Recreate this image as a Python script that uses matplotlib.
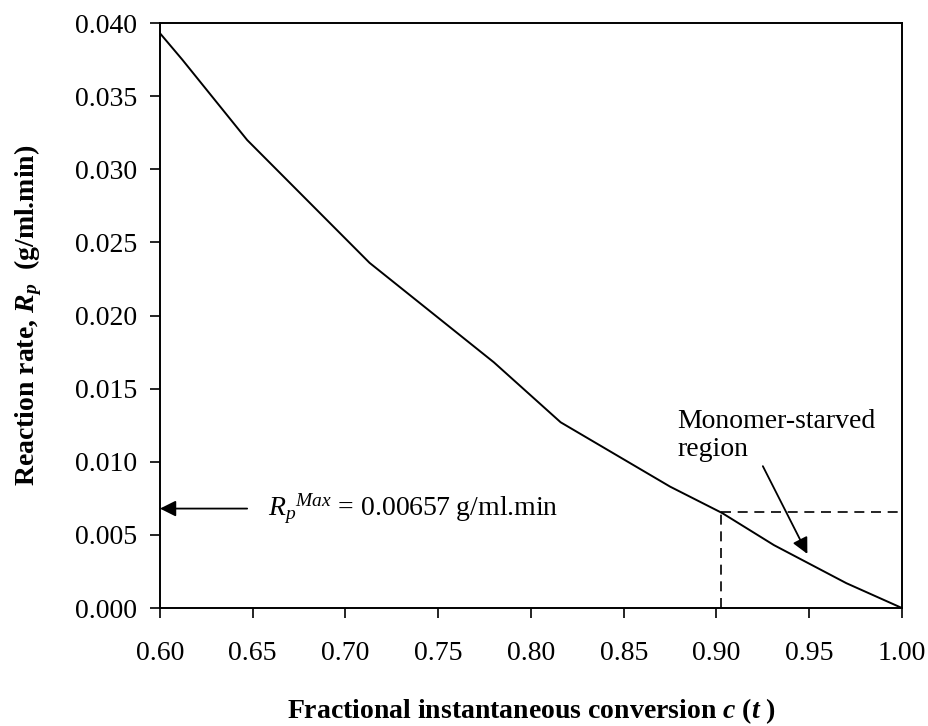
import matplotlib
matplotlib.use('Agg')
import matplotlib.pyplot as plt

# conversion vs. reaction rate
conversion = [0.600, 0.612, 0.647, 0.713, 0.780, 0.816, 0.875, 0.903, 0.931, 0.970, 1.000]
rate = [0.0393, 0.0375, 0.0320, 0.0236, 0.0168, 0.0127, 0.0083, 0.0065, 0.0043, 0.0017, 0.0000]

rp_max = 0.00657
c_max = 0.9025

x_ticks = [0.60, 0.65, 0.70, 0.75, 0.80, 0.85, 0.90, 0.95, 1.00]
y_ticks = [0.000, 0.005, 0.010, 0.015, 0.020, 0.025, 0.030, 0.035, 0.040]

plt.rcParams['font.family'] = ['Liberation Serif', 'DejaVu Serif']
plt.rcParams['mathtext.fontset'] = 'custom'
plt.rcParams['mathtext.rm'] = 'Liberation Serif'
plt.rcParams['mathtext.it'] = 'Liberation Serif:italic'
plt.rcParams['mathtext.bf'] = 'Liberation Serif:bold'
plt.rcParams['mathtext.bfit'] = 'Liberation Serif:bold:italic'

fig = plt.figure(figsize=(9.29, 7.26), dpi=100)
ax = fig.add_axes([0.1722, 0.1625, 0.7987, 0.8058])

ax.plot(conversion, rate, color='black', lw=1.4)

# dashed box marking the monomer-starved region
ax.plot([c_max, c_max], [0, rp_max], color='black', lw=1.2, ls=(0, (6, 4)))
ax.plot([c_max, 1.0], [rp_max, rp_max], color='black', lw=1.2, ls=(0, (6, 4)))

ax.set_xlim(0.60, 1.00)
ax.set_ylim(0.000, 0.040)
ax.set_xticks(x_ticks)
ax.set_yticks(y_ticks)
ax.set_xticklabels([f'{v:.2f}' for v in x_ticks])
ax.set_yticklabels([f'{v:.3f}' for v in y_ticks])
ax.tick_params(direction='out', length=7.5, width=1.2, labelsize=20,
               top=False, right=False)
ax.tick_params(axis='x', pad=16)
ax.tick_params(axis='y', pad=9)
for spine in ax.spines.values():
    spine.set_linewidth(1.4)

ax.set_ylabel(r'Reaction rate, $\mathbfit{R_p}$  (g/ml.min)', fontsize=20,
              fontweight='bold', labelpad=22)
ax.set_xlabel(r'Fractional instantaneous conversion $\mathbfit{c}$ ($\mathbfit{t}$ )',
              fontsize=20, fontweight='bold', labelpad=22)

ax.annotate('', xy=(0.600, 0.0068), xytext=(0.647, 0.0068),
            arrowprops=dict(arrowstyle='-|>', color='black', lw=1.3,
                            mutation_scale=24, shrinkA=0, shrinkB=0))
ax.text(0.658, 0.0068, r'$R_p{}^{Max}$ = 0.00657 g/ml.min', fontsize=20,
        va='center', ha='left')

ax.text(0.879, 0.0118, 'Monomer-starved\nregion', fontsize=20,
        va='center', ha='left', linespacing=1.15)
ax.annotate('', xy=(0.949, 0.0037), xytext=(0.925, 0.0097),
            arrowprops=dict(arrowstyle='-|>', color='black', lw=1.3,
                            mutation_scale=24, shrinkA=0, shrinkB=0))

fig.savefig('out.png', dpi=100)
plt.close(fig)
